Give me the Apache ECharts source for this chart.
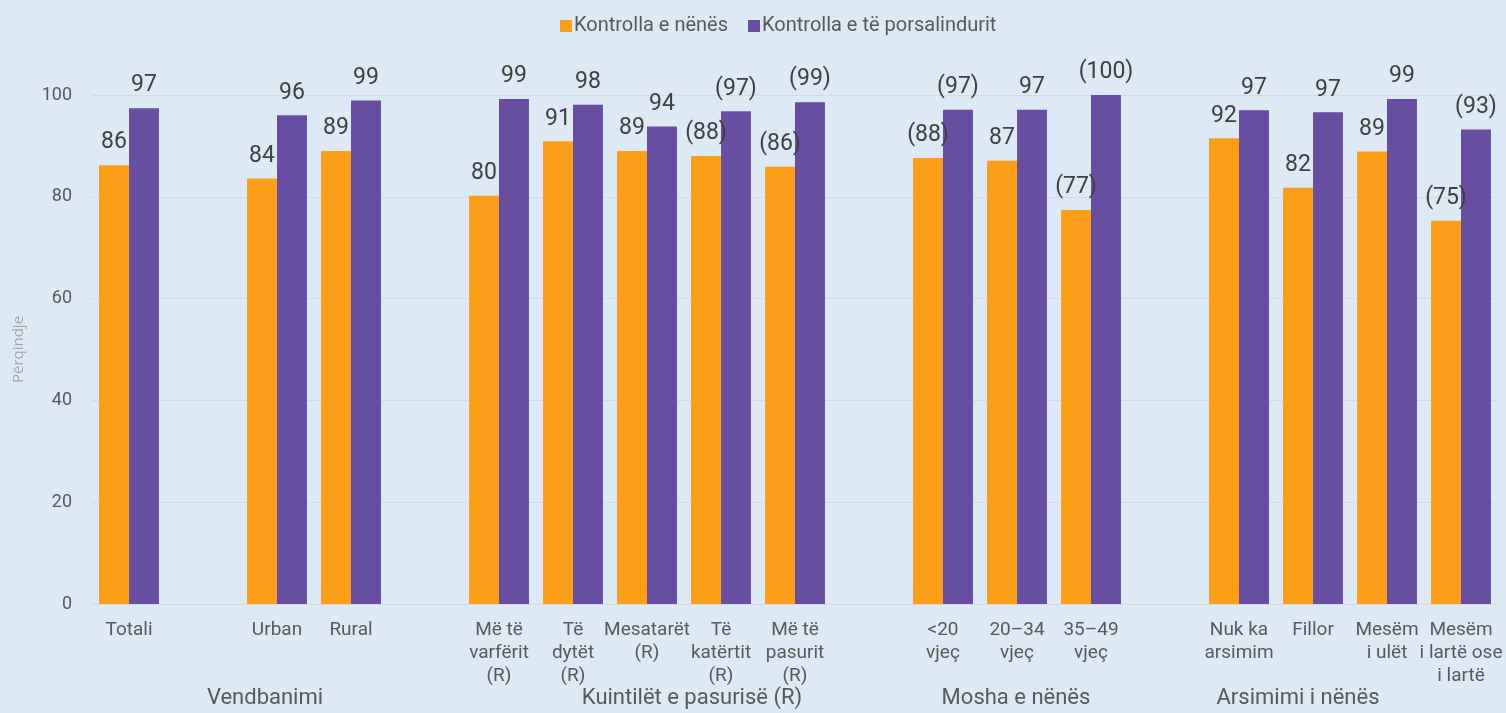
<!DOCTYPE html>
<html>
<head>
<meta charset="utf-8">
<script src="https://cdn.jsdelivr.net/npm/echarts@6/dist/echarts.min.js"></script>
<style>
html,body{margin:0;padding:0;background:#dde9f5;}
#chart{width:1506px;height:713px;}
</style>
</head>
<body>
<div id="chart"></div>
<script>
// Categories ('' = spacer slot between groups)
const categories = [
  'Totali', '',
  'Urban', 'Rural', '',
  'Më të\nvarfërit\n(R)', 'Të\ndytët\n(R)', 'Mesatarët\n(R)', 'Të\nkatërtit\n(R)', 'Më të\npasurit\n(R)', '',
  '<20\nvjeç', '20–34\nvjeç', '35–49\nvjeç', '',
  'Nuk ka\narsimim', 'Fillor', 'Mesëm\ni ulët', 'Mesëm\ni lartë ose\ni lartë'
];
const seriesNames = ['Kontrolla e nënës', 'Kontrolla e të porsalindurit'];
const motherValues = [86.2, null, 83.6, 89.0, null, 80.2, 90.9, 89.0, 88.0, 85.9, null, 87.6, 87.1, 77.4, null, 91.5, 81.8, 88.9, 75.3];
const newbornValues = [97.4, null, 96.0, 98.9, null, 99.2, 98.1, 93.8, 96.8, 98.6, null, 97.1, 97.1, 100.0, null, 97.0, 96.6, 99.2, 93.2];
const motherLabels = ['86', '', '84', '89', '', '80', '91', '89', '(88)', '(86)', '', '(88)', '87', '(77)', '', '92', '82', '89', '(75)'];
const newbornLabels = ['97', '', '96', '99', '', '99', '98', '94', '(97)', '(99)', '', '(97)', '97', '(100)', '', '97', '97', '99', '(93)'];
const yTicks = [0, 20, 40, 60, 80, 100];
const groupLabels = ['Vendbanimi', 'Kuintilët e pasurisë (R)', 'Mosha e nënës', 'Arsimimi i nënës'];

const FONT = 'Roboto, "Open Sans", sans-serif';
const chart = echarts.init(document.getElementById('chart'), null, {renderer: 'canvas'});

const groupX = [265, 692, 1016, 1298];

chart.setOption({
  backgroundColor: '#dde9f5',
  textStyle: {fontFamily: FONT},
  legend: {
    top: 11,
    left: 555,
    itemWidth: 12,
    itemHeight: 12,
    itemGap: 20,
    icon: 'rect',
    textStyle: {fontSize: 20, color: '#595959', fontFamily: FONT, padding: [0, 0, 0, -3]},
    data: seriesNames
  },
  grid: {left: 92, right: 8, top: 95, bottom: 109, containLabel: false},
  xAxis: {
    type: 'category',
    data: categories,
    axisLine: {lineStyle: {color: '#d9d9d9', width: 1}},
    axisTick: {show: false},
    axisLabel: {
      interval: 0,
      color: '#595959',
      fontSize: 19,
      lineHeight: 23,
      margin: 15,
      fontFamily: FONT
    }
  },
  yAxis: {
    type: 'value',
    min: 0,
    max: 100,
    interval: 20,
    name: 'Përqindje',
    nameLocation: 'middle',
    nameGap: 66,
    nameTextStyle: {color: '#a6a6a6', fontSize: 15, fontFamily: '"Open Sans", sans-serif'},
    axisLine: {show: false},
    axisTick: {show: false},
    axisLabel: {
      color: '#595959',
      fontSize: 18,
      margin: 20,
      fontFamily: FONT,
      formatter: v => yTicks.includes(v) ? String(v) : ''
    },
    splitLine: {lineStyle: {color: '#d9d9d9', width: 1}}
  },
  series: [
    {
      name: seriesNames[0],
      type: 'bar',
      data: motherValues,
      barGap: '0%',
      barCategoryGap: '19%',
      itemStyle: {color: '#fb9e1a'},
      label: {
        show: true,
        position: 'top',
        distance: 11,
        fontSize: 23,
        color: '#404040',
        fontFamily: FONT,
        formatter: p => motherLabels[p.dataIndex]
      }
    },
    {
      name: seriesNames[1],
      type: 'bar',
      data: newbornValues,
      barGap: '0%',
      barCategoryGap: '19%',
      itemStyle: {color: '#684ea0'},
      label: {
        show: true,
        position: 'top',
        distance: 11,
        fontSize: 23,
        color: '#404040',
        fontFamily: FONT,
        formatter: p => newbornLabels[p.dataIndex]
      }
    }
  ],
  graphic: groupLabels.map((t, i) => ({
    type: 'text',
    x: groupX[i],
    y: 698,
    style: {
      text: t,
      fill: '#595959',
      fontSize: 22,
      fontFamily: FONT,
      textAlign: 'center',
      textVerticalAlign: 'middle'
    }
  }))
});
</script>
</body>
</html>
